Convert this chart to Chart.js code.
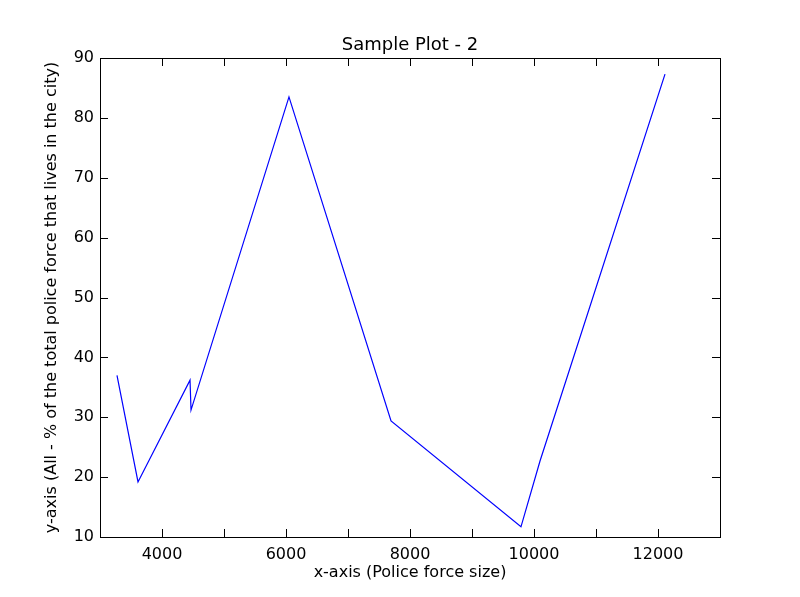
<!DOCTYPE html>
<html><head><meta charset="utf-8">
<script src="https://cdn.jsdelivr.net/npm/chart.js@4/dist/chart.umd.min.js"></script>
<style>html,body{margin:0;background:#fff}#w{width:800px;height:597px}</style>
</head><body><div id="w"><canvas id="c"></canvas></div>
<script>
const policeForceSize = [3274, 3613, 4452, 4468, 6048, 7694, 9790, 10097, 12113];
const pctLivesInCity = [37.0, 19.2, 36.2, 31.2, 83.5, 29.4, 11.7, 22.7, 87.3];
const xTicks = [4000, 6000, 8000, 10000, 12000];
const yTicks = [10, 20, 30, 40, 50, 60, 70, 80, 90];
const FONT = 'DejaVu Sans';
const deco = {
  id: 'deco',
  afterDraw(ch) {
    const c = ch.ctx, a = ch.chartArea, xs = ch.scales.x, ys = ch.scales.y;
    c.save();
    c.strokeStyle = '#000'; c.lineWidth = 1;
    c.strokeRect(a.left + 0.5, a.top + 0.5, a.right - a.left, a.bottom - a.top);
    c.beginPath();
    for (let v = 3000; v <= 13000; v += 1000) {
      const p = Math.round(xs.getPixelForValue(v)) + 0.5;
      c.moveTo(p, a.bottom); c.lineTo(p, a.bottom - 8);
      c.moveTo(p, a.top); c.lineTo(p, a.top + 8);
    }
    yTicks.forEach(v => {
      const p = Math.round(ys.getPixelForValue(v)) + 0.5;
      c.moveTo(a.left, p); c.lineTo(a.left + 8, p);
      c.moveTo(a.right, p); c.lineTo(a.right - 8, p);
    });
    c.stroke();
    c.fillStyle = '#000'; c.textAlign = 'center';
    c.font = '18px ' + FONT; c.textBaseline = 'bottom';
    c.fillText('Sample Plot - 2', (a.left + a.right) / 2, a.top - 4);
    c.font = '16px ' + FONT; c.textBaseline = 'top';
    c.fillText('x-axis (Police force size)', (a.left + a.right) / 2, a.bottom + 28);
    c.translate(52, (a.top + a.bottom) / 2); c.rotate(-Math.PI / 2);
    c.textBaseline = 'middle';
    c.fillText('y-axis (All - % of the total police force that lives in the city)', 0, 0);
    c.restore();
  }
};
new Chart(document.getElementById('c'), {
  type: 'scatter',
  data: { datasets: [{ data: policeForceSize.map((x, i) => ({ x, y: pctLivesInCity[i] })),
    showLine: true, borderColor: '#0000ff', borderWidth: 1.2, pointRadius: 0, tension: 0 }] },
  options: {
    responsive: true, maintainAspectRatio: false, animation: false,
    layout: { padding: { top: 58, right: 80, left: 0, bottom: 0 } },
    plugins: { legend: { display: false }, tooltip: { enabled: false } },
    scales: {
      x: { type: 'linear', min: 3000, max: 13000,
        afterFit(s) { s.height = 60; },
        afterBuildTicks(s) { s.ticks = xTicks.map(v => ({ value: v })); },
        grid: { display: false, drawTicks: false }, border: { display: false },
        ticks: { padding: 8, color: '#000', font: { family: FONT, size: 16 }, maxRotation: 0, callback: v => String(v) } },
      y: { type: 'linear', min: 10, max: 90,
        afterFit(s) { s.width = 100; },
        afterBuildTicks(s) { s.ticks = yTicks.map(v => ({ value: v })); },
        grid: { display: false, drawTicks: false }, border: { display: false },
        ticks: { padding: 6, color: '#000', font: { family: FONT, size: 16 } } }
    }
  },
  plugins: [deco]
});
</script></body></html>
